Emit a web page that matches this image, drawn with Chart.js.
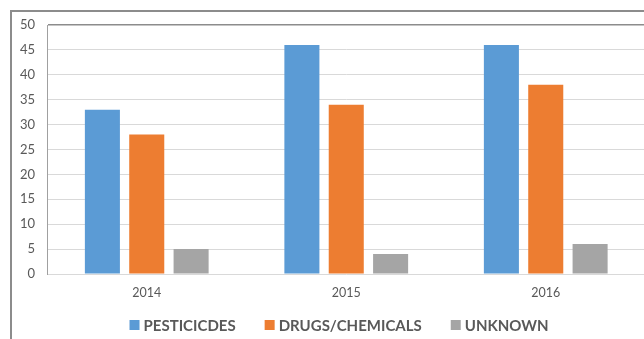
<!DOCTYPE html>
<html>
<head>
<meta charset="utf-8">
<script src="https://cdn.jsdelivr.net/npm/chart.js@4"></script>
<style>
  html, body { margin: 0; padding: 0; background: #fff; overflow: hidden; width: 644px; height: 339px; }
  #frame { position: absolute; left: 10px; top: 10px; width: 700px; height: 340px;
           border-left: 2px solid #8c8c8c; border-top: 2px solid #8c8c8c; }
  #wrap { position: absolute; left: 0; top: 0; width: 678px; height: 339px; }
</style>
</head>
<body>
<div id="frame"></div>
<div id="wrap"><canvas id="c"></canvas></div>
<script>
// Categories and series
const years = ['2014', '2015', '2016'];
const pesticides = [33, 46, 46];
const drugsChemicals = [28, 34, 38];
const unknown = [5, 4, 6];
const seriesNames = ['PESTICICDES', 'DRUGS/CHEMICALS', 'UNKNOWN'];
const yTickMin = 0, yTickMax = 50, yTickStep = 5;

const colors = ['#5B9BD5', '#ED7D31', '#A5A5A5'];
const textColor = '#595959';
const fontFamily = 'Lato, "Liberation Sans", sans-serif';

// Legend drawn under the plot: square swatch, tight gap, bold caps text
const bottomLegend = {
  id: 'bottomLegend',
  afterDraw(chart) {
    const ctx = chart.ctx;
    const items = chart.data.datasets.map(d => ({ text: d.label, color: d.backgroundColor }));
    const box = 10, gap = 4, spacing = 29, cy = 325;
    ctx.save();
    ctx.font = '700 15px ' + fontFamily;
    ctx.textBaseline = 'middle';
    ctx.textAlign = 'left';
    const widths = items.map(it => box + gap + ctx.measureText(it.text).width);
    const total = widths.reduce((a, b) => a + b, 0) + spacing * (items.length - 1);
    let x = chart.width / 2 - total / 2;
    items.forEach((it, i) => {
      ctx.fillStyle = it.color;
      ctx.fillRect(x, cy - box / 2, box, box);
      ctx.fillStyle = textColor;
      ctx.fillText(it.text, x + box + gap, cy + 1);
      x += widths[i] + spacing;
    });
    ctx.restore();
  }
};

new Chart(document.getElementById('c'), {
  type: 'bar',
  data: {
    labels: years,
    datasets: [
      { label: seriesNames[0], data: pesticides, backgroundColor: colors[0] },
      { label: seriesNames[1], data: drugsChemicals, backgroundColor: colors[1] },
      { label: seriesNames[2], data: unknown, backgroundColor: colors[2] }
    ]
  },
  options: {
    responsive: true,
    maintainAspectRatio: false,
    animation: false,
    categoryPercentage: 0.667,
    barPercentage: 0.79,
    layout: { padding: { left: 0, top: 25, right: 32.5, bottom: 35 } },
    plugins: {
      legend: { display: false },
      tooltip: { enabled: false }
    },
    scales: {
      x: {
        grid: { display: false, drawTicks: false },
        border: { display: false },
        ticks: { color: textColor, font: { family: fontFamily, size: 12.5 }, padding: 11 },
        afterFit(scale) { scale.height = 30; }
      },
      y: {
        min: yTickMin,
        max: yTickMax,
        ticks: { stepSize: yTickStep, color: textColor, font: { family: fontFamily, size: 13 }, padding: 12 },
        grid: {
          drawTicks: false,
          lineWidth: ctx => ctx.tick && ctx.tick.value === yTickMax ? 1.5 : 1,
          color: ctx => ctx.tick && ctx.tick.value === yTickMax ? '#8c8c8c' : '#d9d9d9'
        },
        border: { display: true, color: '#a0a0a0', width: 1 },
        afterFit(scale) { scale.width = 47; }
      }
    }
  },
  plugins: [bottomLegend]
});
</script>
</body>
</html>
